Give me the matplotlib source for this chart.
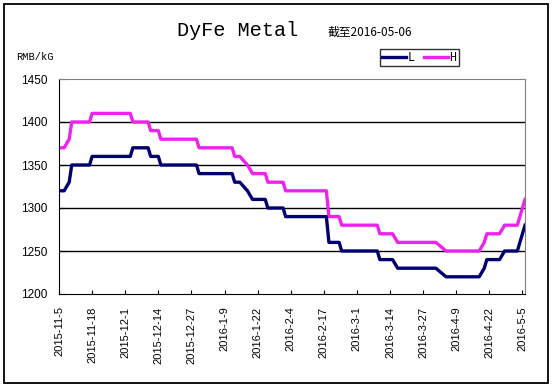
import matplotlib
matplotlib.use('Agg')
import matplotlib.pyplot as plt
from matplotlib.patches import Rectangle
import pandas as pd

plt.rcParams['font.family'] = ['Liberation Sans', 'Noto Sans CJK SC', 'DejaVu Sans']

# step points (date, RMB/kG)
low_dates = ['2015-11-05', '2015-11-07', '2015-11-09', '2015-11-10', '2015-11-17', '2015-11-18',
             '2015-12-03', '2015-12-04', '2015-12-10', '2015-12-11', '2015-12-14', '2015-12-15',
             '2015-12-29', '2015-12-30', '2016-01-12', '2016-01-13', '2016-01-15', '2016-01-18',
             '2016-01-20', '2016-01-25', '2016-01-26', '2016-02-01', '2016-02-02', '2016-02-18',
             '2016-02-19', '2016-02-23', '2016-02-24', '2016-03-09', '2016-03-10', '2016-03-15',
             '2016-03-17', '2016-04-01', '2016-04-05', '2016-04-18', '2016-04-20', '2016-04-21',
             '2016-04-26', '2016-04-28', '2016-05-03', '2016-05-06']
low_vals = [1320, 1320, 1330, 1350, 1350, 1360,
            1360, 1370, 1370, 1360, 1360, 1350,
            1350, 1340, 1340, 1330, 1330, 1320,
            1310, 1310, 1300, 1300, 1290, 1290,
            1260, 1260, 1250, 1250, 1240, 1240,
            1230, 1230, 1220, 1220, 1230, 1240,
            1240, 1250, 1250, 1280]

high_dates = ['2015-11-05', '2015-11-07', '2015-11-09', '2015-11-10', '2015-11-17', '2015-11-18',
              '2015-12-03', '2015-12-04', '2015-12-10', '2015-12-11', '2015-12-14', '2015-12-15',
              '2015-12-29', '2015-12-30', '2016-01-12', '2016-01-13', '2016-01-15', '2016-01-18',
              '2016-01-20', '2016-01-25', '2016-01-26', '2016-02-01', '2016-02-02', '2016-02-18',
              '2016-02-19', '2016-02-23', '2016-02-24', '2016-03-09', '2016-03-10', '2016-03-15',
              '2016-03-17', '2016-04-01', '2016-04-05', '2016-04-18', '2016-04-20', '2016-04-21',
              '2016-04-26', '2016-04-28', '2016-05-03', '2016-05-06']
high_vals = [1370, 1370, 1380, 1400, 1400, 1410,
             1410, 1400, 1400, 1390, 1390, 1380,
             1380, 1370, 1370, 1360, 1360, 1350,
             1340, 1340, 1330, 1330, 1320, 1320,
             1290, 1290, 1280, 1280, 1270, 1270,
             1260, 1260, 1250, 1250, 1260, 1270,
             1270, 1280, 1280, 1310]

tick_dates = ['2015-11-05', '2015-11-18', '2015-12-01', '2015-12-14', '2015-12-27', '2016-01-09',
              '2016-01-22', '2016-02-04', '2016-02-17', '2016-03-01', '2016-03-14', '2016-03-27',
              '2016-04-09', '2016-04-22', '2016-05-05']
tick_labels = ['2015-11-5', '2015-11-18', '2015-12-1', '2015-12-14', '2015-12-27', '2016-1-9',
               '2016-1-22', '2016-2-4', '2016-2-17', '2016-3-1', '2016-3-14', '2016-3-27',
               '2016-4-9', '2016-4-22', '2016-5-5']

low_x = pd.to_datetime(low_dates)
high_x = pd.to_datetime(high_dates)

fig = plt.figure(figsize=(5.55, 3.89), dpi=100)
ax = fig.add_axes([59 / 555, 1 - 294 / 389, 466 / 555, 215 / 389])

for y in [1250, 1300, 1350, 1400]:
    ax.axhline(y, color='black', linewidth=1.0, zorder=1)

ax.plot(low_x, low_vals, color='#000070', linewidth=2.4, label='L', zorder=3)
ax.plot(high_x, high_vals, color='#ee22ee', linewidth=2.4, label='H', zorder=2)

ax.set_xlim(low_x[0], low_x[-1])
ax.set_ylim(1200, 1450)
ax.set_yticks([1200, 1250, 1300, 1350, 1400, 1450])
ax.set_xticks(pd.to_datetime(tick_dates))
ax.set_xticklabels(tick_labels, rotation=90, fontsize=8)
ax.tick_params(axis='y', direction='in', length=4, labelsize=8.5, pad=8)
ax.tick_params(axis='x', direction='in', length=3, pad=9)

ax.spines['left'].set_color('black')
ax.spines['bottom'].set_color('black')
ax.spines['top'].set_color('#808080')
ax.spines['right'].set_color('#808080')

fig.text(238 / 555, 1 - 30 / 389, 'DyFe Metal', family='Liberation Mono', fontsize=14.5,
         ha='center', va='center')
fig.text(328 / 555, 1 - 32 / 389, '截至2016-05-06', family=['Noto Sans CJK SC', 'DejaVu Sans'],
         fontsize=8.5, ha='left', va='center')
fig.text(16 / 555, 1 - 57 / 389, 'RMB/kG', family='Liberation Mono', fontsize=7.5,
         ha='left', va='center')

leg = ax.legend(loc='lower left', bbox_to_anchor=(380 / 555, 1 - 66 / 389), bbox_transform=fig.transFigure,
                ncol=2, frameon=True, fancybox=False, handlelength=2.0,
                handletextpad=0.15, columnspacing=0.8, borderpad=0.2, borderaxespad=0,
                prop={'family': 'Liberation Mono', 'size': 8.5})
leg.get_frame().set_edgecolor('black')
leg.get_frame().set_linewidth(1.0)

fig.patches.append(Rectangle((4 / 555, 1 - 383 / 389), 544 / 555, 379 / 389, transform=fig.transFigure,
                             fill=False, edgecolor='black', linewidth=1.3))

fig.savefig('out.png', dpi=100)
